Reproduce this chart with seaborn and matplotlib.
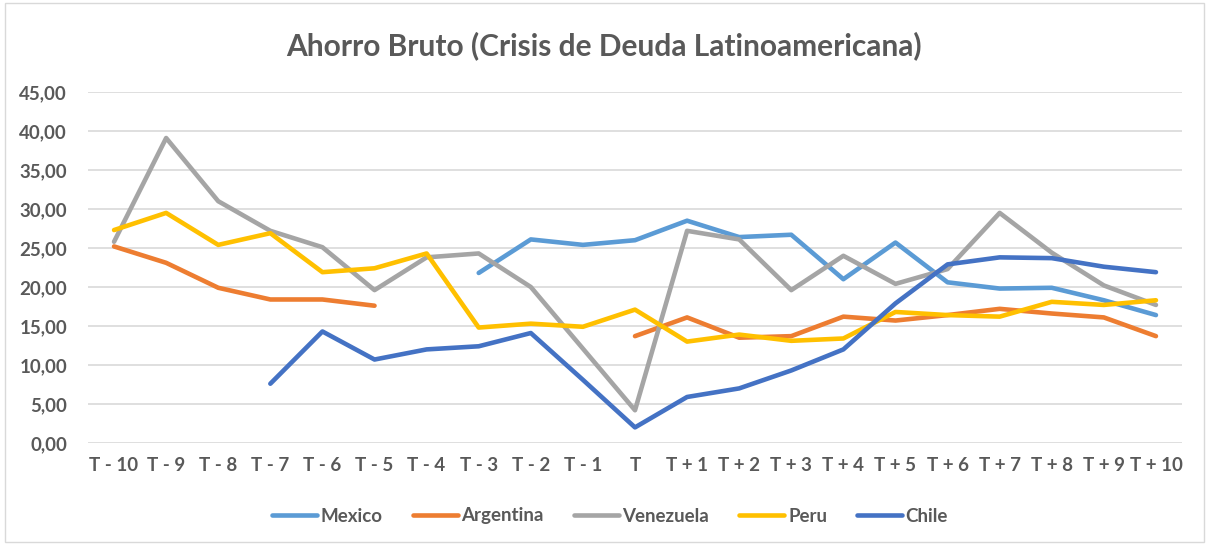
import numpy as np
import pandas as pd
import seaborn as sns
import matplotlib.pyplot as plt
from matplotlib.patches import Rectangle

categories = ["T - 10", "T - 9", "T - 8", "T - 7", "T - 6", "T - 5", "T - 4", "T - 3",
              "T - 2", "T - 1", "T", "T + 1", "T + 2", "T + 3", "T + 4", "T + 5",
              "T + 6", "T + 7", "T + 8", "T + 9", "T + 10"]
nan = np.nan
mexico = [nan, nan, nan, nan, nan, nan, nan, 21.8, 26.1, 25.4, 26.0, 28.5, 26.4, 26.7,
          21.0, 25.7, 20.6, 19.8, 19.9, 18.3, 16.4]
argentina = [25.2, 23.1, 19.9, 18.4, 18.4, 17.6, nan, nan, nan, nan, 13.7, 16.1, 13.5, 13.7,
             16.2, 15.7, 16.4, 17.2, 16.6, 16.1, 13.7]
venezuela = [25.8, 39.1, 31.0, 27.2, 25.1, 19.6, 23.8, 24.3, 20.0, 12.1, 4.2, 27.2, 26.1, 19.6,
             24.0, 20.4, 22.3, 29.5, 24.4, 20.2, 17.7]
peru = [27.3, 29.5, 25.4, 26.9, 21.9, 22.4, 24.3, 14.8, 15.3, 14.9, 17.1, 13.0, 13.9, 13.1,
        13.4, 16.8, 16.4, 16.2, 18.1, 17.7, 18.3]
chile = [nan, nan, nan, 7.6, 14.3, 10.7, 12.0, 12.4, 14.1, 8.1, 2.0, 5.9, 7.0, 9.3,
         12.0, 17.9, 22.9, 23.8, 23.7, 22.6, 21.9]

series = {"Mexico": mexico, "Argentina": argentina, "Venezuela": venezuela,
          "Peru": peru, "Chile": chile}
palette = {"Mexico": "#5B9BD5", "Argentina": "#ED7D31", "Venezuela": "#A5A5A5",
           "Peru": "#FFC000", "Chile": "#4472C4"}

rows = []
for name, vals in series.items():
    seg = 0
    prev_nan = True
    for i, v in enumerate(vals):
        if np.isnan(v):
            prev_nan = True
            continue
        if prev_nan:
            seg += 1
            prev_nan = False
        rows.append({"x": i, "value": v, "country": name, "seg": f"{name}_{seg}"})
df = pd.DataFrame(rows)

sns.set_theme(style="white")
plt.rcParams['font.family'] = ['Lato', 'DejaVu Sans']

fig = plt.figure(figsize=(12.07, 5.45), dpi=100)
ax = fig.add_axes([88/1207, 1-443/545, (1182-88)/1207, (443-92)/545])

sns.lineplot(data=df, x="x", y="value", hue="country", units="seg", estimator=None,
             palette=palette, hue_order=list(series.keys()), linewidth=3.3,
             solid_capstyle="round", ax=ax, zorder=3)

ax.set_xlim(-0.5, 20.5)
ax.set_ylim(0, 45)
ax.set_yticks(np.arange(0, 46, 5))
ax.set_yticklabels([f"{v:.2f}".replace(".", ",") for v in np.arange(0, 46, 5)])
ax.set_xticks(range(len(categories)))
ax.set_xticklabels(categories)
ax.yaxis.grid(True, color="#D9D9D9", linewidth=1.2, zorder=0)
ax.xaxis.grid(False)
for s in ax.spines.values():
    s.set_visible(False)
ax.tick_params(axis="both", length=0, labelsize=13.5, labelcolor="#595959")
ax.tick_params(axis="y", pad=15)
ax.tick_params(axis="x", pad=10)
for lab in ax.get_xticklabels() + ax.get_yticklabels():
    lab.set_fontweight("bold")
ax.set_xlabel("")
ax.set_ylabel("")

fig.text(0.5, 1-46/545, "Ahorro Bruto (Crisis de Deuda Latinoamericana)", ha="center",
         va="center", fontsize=21.5, fontweight="bold", color="#595959")

handles, labels = ax.get_legend_handles_labels()
if ax.legend_:
    ax.legend_.remove()
for h in handles:
    h.set_linewidth(3.3)
leg = fig.legend(handles, labels, loc="center", bbox_to_anchor=(610/1207, 1-516/545),
                 ncol=5, frameon=False, handlelength=2.4, handletextpad=0.2,
                 columnspacing=1.6, prop={"size": 13.5, "weight": "bold"})
for t in leg.get_texts():
    t.set_color("#595959")

fig.patches.append(Rectangle((5/1207, 3/545), 1199/1207, 539/545, transform=fig.transFigure,
                             fill=False, edgecolor="#D9D9D9", linewidth=1.0))

fig.savefig("out.png", dpi=100)
